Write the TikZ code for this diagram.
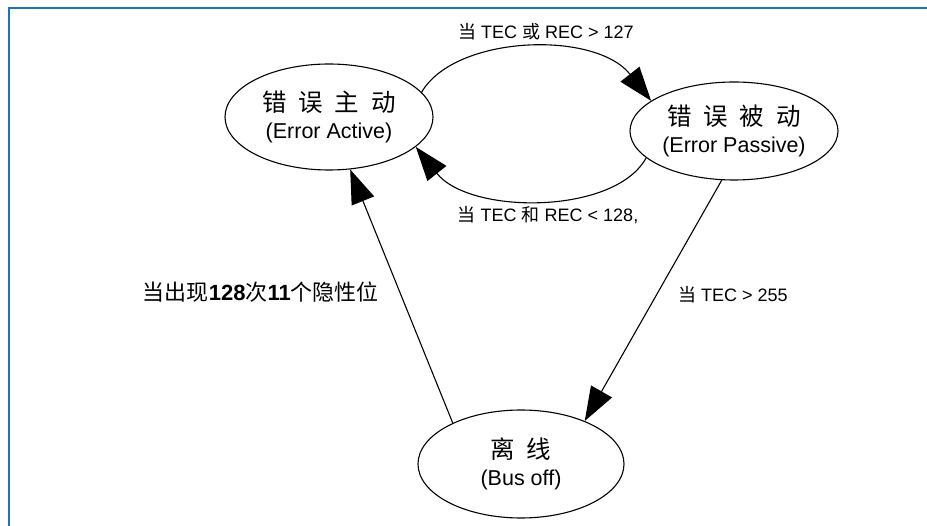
\documentclass[tikz,border=0pt]{standalone}
\usepackage{fontspec}
\setmainfont{Liberation Sans}
\newfontfamily\cjk{Noto Sans CJK SC}
\usetikzlibrary{arrows.meta,shapes.geometric}
\definecolor{frameblue}{RGB}{30,115,192}
\newcommand{\zh}[1]{{\cjk #1}}
\newcommand{\gp}{\hspace{12pt}}
\newcommand{\zhbig}[1]{{\fontsize{24.5}{27}\selectfont\cjk #1}}
\tikzset{
  state/.style={draw, ellipse, line width=1.1pt, inner sep=0pt, align=center,
     minimum width=208pt, minimum height=106pt, font=\fontsize{21.5}{27}\selectfont},
  conn/.style={line width=1.1pt, -{Triangle[length=34pt,width=24pt]}},
  lbl/.style={inner sep=0pt, font=\fontsize{18}{20}\selectfont},
}
\begin{document}
\begin{tikzpicture}[x=1pt,y=-1pt]
\useasboundingbox (0,0) rectangle (927,526);
\fill[white] (0,0) rectangle (927,526);
\draw[frameblue, line width=2pt] (9,530) -- (9,8) -- (930,8);

\node[state] (ea) at (329,117) {\zhbig{错\gp 误\gp 主\gp 动}\\(Error Active)};
\node[state, minimum height=98pt] (ep) at (734,131) {\zhbig{错\gp 误\gp 被\gp 动}\\(Error Passive)};
\node[state, minimum height=108pt, minimum width=206pt] (bo) at (521,464) {\zhbig{离\gp 线}\\(Bus off)};

\draw[conn] (ea.15) .. controls (455,35) and (595,30) .. (ep.160);
\draw[conn] (ep.197) .. controls (615,215) and (470,215) .. (ea.-19);
\draw[conn] (bo.149) -- (ea.-68);
\draw[conn] (ep.256) -- (bo.34);

\node[lbl] (l1) at (546,32) {\zh{当} TEC \zh{或} REC > 127};
\node[lbl] (l2) at (548,215) {\zh{当} TEC \zh{和} REC < 128,};
\node[lbl, anchor=west] (l3) at (678,295) {\zh{当} TEC > 255};
\node[lbl, anchor=east, font=\fontsize{22}{24}\selectfont] (l4) at (379,292) {\zh{当出现}\textbf{128}\zh{次}\textbf{11}\zh{个隐性位}};
\end{tikzpicture}
\end{document}
